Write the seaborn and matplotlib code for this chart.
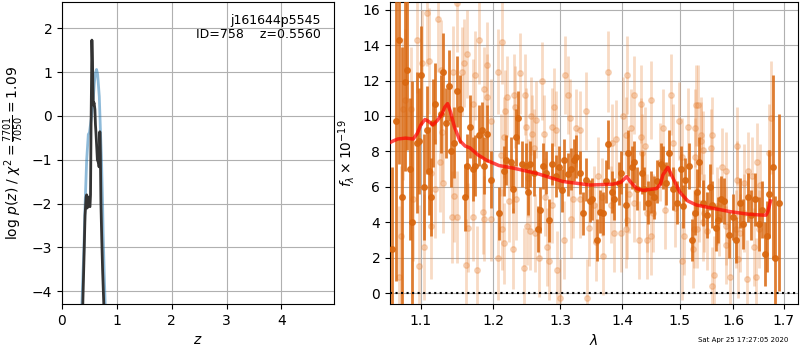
import numpy as np
import matplotlib
matplotlib.use("Agg")
import matplotlib.pyplot as plt
import matplotlib.ticker as mticker
import seaborn as sns

# p(z) curves
z_coarse = [0.36, 0.40, 0.42, 0.45, 0.48, 0.50, 0.53, 0.56, 0.59, 0.61, 0.63, 0.65, 0.68, 0.70, 0.72, 0.74, 0.75, 0.77, 0.79]
lnp_coarse = [-4.4, -3.0, -2.07, -1.0, -0.42, -0.38, -0.1, 0.2, 0.75, 0.98, 1.06, 0.95, 0.44, -0.3, -1.0, -2.0, -2.67, -3.6, -4.4]

z_fine = [0.377, 0.40, 0.42, 0.44, 0.45, 0.46, 0.47, 0.48, 0.50, 0.51, 0.52, 0.53, 0.54, 0.545, 0.555, 0.565, 0.57,
          0.585, 0.60, 0.61, 0.62, 0.635, 0.645, 0.66, 0.675, 0.685, 0.69, 0.70, 0.71, 0.725, 0.74, 0.765]
lnp_fine = [-4.4, -3.3, -2.27, -1.85, -1.8, -2.1, -2.05, -1.85, -2.05, -2.07, -1.8, -0.2, 1.0, 1.73, 1.25, 0.6, 0.25,
            0.3, 0.15, -0.2, -0.4, -0.75, -1.0, -1.05, -1.16, -1.1, -0.36, -0.9, -2.0, -2.8, -3.5, -4.4]

# spectrum, first grism (dark)
wave_a = [1.0625, 1.0675, 1.0716, 1.0760, 1.0795, 1.0820, 1.0856, 1.0880, 1.0943, 1.0970, 1.1004, 1.1040, 1.1084, 1.1110,
          1.1128, 1.1155, 1.1190, 1.1262, 1.1297, 1.1342, 1.1377, 1.1404, 1.1450, 1.1485, 1.1522, 1.1594, 1.1631, 1.1668,
          1.1704, 1.1741, 1.1797, 1.1834, 1.1862, 1.1908, 1.1964, 1.2082, 1.2149, 1.2187, 1.2256, 1.2285, 1.2334, 1.2363,
          1.2412, 1.2472, 1.2501, 1.2531, 1.2599, 1.2660, 1.2690, 1.2730, 1.2780, 1.2830, 1.2880, 1.2930, 1.2975, 1.3025,
          1.3067, 1.3117, 1.3170, 1.3223, 1.3254, 1.3307, 1.3360, 1.3413, 1.3477, 1.3509, 1.3585, 1.3640, 1.3690, 1.3727,
          1.3771, 1.3826, 1.3870, 1.3948, 1.3981, 1.4060, 1.4105, 1.4161, 1.4207, 1.4253, 1.4332, 1.4378, 1.4447, 1.4494,
          1.4551, 1.4609, 1.4668, 1.4714, 1.4761, 1.4820, 1.4891, 1.4962, 1.5022, 1.5058, 1.5105, 1.5166, 1.5226, 1.5286,
          1.5310, 1.5358, 1.5431, 1.5504, 1.5554, 1.5603, 1.5665, 1.5715, 1.5765, 1.5828, 1.5916, 1.5992, 1.6057, 1.6121,
          1.6185, 1.6276, 1.6341, 1.6419, 1.6497, 1.6564, 1.6616, 1.6669, 1.6708, 1.6774, 1.6827, 1.6894]
flux_a = [2.5, 9.7, 14.3, 5.4, 11.9, 12.6, 7.0, 4.0, 8.5, 8.6, 12.3, 6.0, 9.2, 6.9,
          5.4, 9.6, 10.7, 10.1, 12.5, 9.6, 11.7, 8.0, 8.5, 11.4, 10.4, 5.4, 7.2, 9.4,
          7.0, 7.2, 8.9, 9.2, 7.2, 9.0, 6.4, 4.5, 6.9, 7.5, 7.4, 5.9, 8.8, 9.9,
          7.3, 7.2, 5.7, 7.3, 6.8, 3.6, 4.7, 7.2, 6.8, 4.1, 7.3, 6.6, 7.1, 5.8,
          7.5, 6.7, 7.0, 7.5, 7.7, 6.8, 4.5, 6.4, 5.2, 5.3, 3.0, 4.6, 4.5, 6.3,
          8.4, 5.7, 5.3, 6.2, 6.8, 5.0, 7.9, 7.1, 7.4, 5.9, 6.8, 5.9, 5.1, 5.7,
          5.4, 6.3, 7.3, 7.1, 6.2, 7.9, 5.9, 5.1, 7.0, 4.9, 6.4, 7.2, 3.0, 4.5,
          5.7, 7.4, 5.1, 4.4, 6.0, 5.0, 3.7, 4.1, 5.3, 5.2, 3.3, 4.3, 3.0, 5.1,
          3.9, 5.4, 4.4, 5.3, 3.9, 4.7, 2.2, 3.2, 5.6, 7.1, 2.0, 5.1]
err_a = [4.6, 9.0, 7.0, 8.5, 5.0, 4.5, 4.0, 8.0, 4.0, 3.0, 2.8, 3.0, 2.5, 2.5,
         2.2, 2.5, 2.3, 2.2, 2.2, 2.0, 2.0, 2.0, 2.0, 2.0, 1.9, 1.9, 1.8, 1.8,
         1.8, 1.7, 1.7, 1.6, 1.6, 1.6, 1.6, 1.5, 1.4, 1.4, 1.4, 1.4, 1.6, 1.5,
         1.3, 1.3, 1.3, 1.3, 1.3, 1.3, 1.3, 1.3, 1.2, 1.2, 1.2, 1.2, 1.2, 1.2,
         1.2, 1.2, 1.2, 1.2, 1.2, 1.2, 1.2, 1.2, 1.2, 1.2, 1.2, 1.2, 1.2, 1.2,
         1.4, 1.2, 1.2, 1.2, 1.2, 1.2, 1.3, 1.2, 1.2, 1.2, 1.2, 1.2, 1.2, 1.2,
         1.2, 1.2, 1.2, 1.2, 1.2, 1.3, 1.2, 1.2, 1.3, 1.2, 1.2, 1.3, 1.2, 1.2,
         1.3, 1.4, 1.3, 1.3, 1.3, 1.3, 1.3, 1.3, 1.3, 1.3, 1.3, 1.3, 1.3, 1.4,
         1.4, 1.4, 1.4, 1.5, 1.5, 1.6, 1.8, 2.0, 2.5, 5.2, 3.5, 5.0]

# spectrum, second grism (light)
wave_b = [1.0716, 1.0740, 1.0768, 1.0786, 1.0866, 1.0890, 1.0950, 1.0978, 1.1020, 1.1040, 1.1075, 1.1110, 1.1128, 1.1136,
          1.1190, 1.1226, 1.1252, 1.1270, 1.1280, 1.1300, 1.1423, 1.1434, 1.1450, 1.1480, 1.1485, 1.1560, 1.1578, 1.1614,
          1.1620, 1.1640, 1.1704, 1.1714, 1.1732, 1.1760, 1.1797, 1.1850, 1.1862, 1.1869, 1.1908, 1.1911, 1.1964, 1.1966,
          1.2059, 1.2070, 1.2112, 1.2120, 1.2129, 1.2149, 1.2160, 1.2168, 1.2200, 1.2230, 1.2285, 1.2305, 1.2316, 1.2334,
          1.2390, 1.2442, 1.2462, 1.2472, 1.2490, 1.2501, 1.2540, 1.2550, 1.2561, 1.2599, 1.2610, 1.2630, 1.2680, 1.2713,
          1.2752, 1.2760, 1.2800, 1.2830, 1.2870, 1.2880, 1.2900, 1.2930, 1.2950, 1.2990, 1.3060, 1.3078, 1.3128, 1.3160,
          1.3165, 1.3200, 1.3254, 1.3307, 1.3310, 1.3413, 1.3424, 1.3456, 1.3540, 1.3575, 1.3607, 1.3664, 1.3690, 1.3771,
          1.3815, 1.3826, 1.3860, 1.3903, 1.3981, 1.4015, 1.4060, 1.4066, 1.4088, 1.4090, 1.4120, 1.4150, 1.4195, 1.4207,
          1.4287, 1.4320, 1.4325, 1.4344, 1.4390, 1.4425, 1.4430, 1.4494, 1.4500, 1.4527, 1.4656, 1.4714, 1.4737, 1.4840,
          1.4891, 1.4927, 1.4986, 1.5046, 1.5050, 1.5080, 1.5154, 1.5251, 1.5262, 1.5286, 1.5290, 1.5300, 1.5310, 1.5334,
          1.5346, 1.5394, 1.5400, 1.5431, 1.5435, 1.5443, 1.5504, 1.5578, 1.5603, 1.5605, 1.5628, 1.5690, 1.5728, 1.5778,
          1.5853, 1.5855, 1.5865, 1.5934, 1.6057, 1.6070, 1.6075, 1.6096, 1.6133, 1.6200, 1.6205, 1.6263, 1.6276, 1.6367,
          1.6393, 1.6445, 1.6458, 1.6497, 1.6524, 1.6695, 1.6734]
flux_b = [0.9, 3.2, 10.4, 10.9, 10.4, 5.3, 14.3, 1.5, 13.0, 2.6, 15.8, 13.1, 3.8, 6.8,
          5.9, 15.5, 7.4, 12.6, 9.1, 6.2, 4.3, 12.5, 5.5, 16.4, 4.3, 12.5, 13.0, 1.6,
          13.5, 3.7, 4.3, 10.7, 12.3, 1.3, 14.3, 4.6, 4.2, 11.5, 11.1, 12.9, 4.2, 9.7,
          2.0, 12.5, 7.8, 14.2, 3.6, 8.8, 2.8, 10.3, 11.1, 5.2, 2.5, 11.2, 10.5, 5.3,
          12.4, 1.4, 11.2, 9.4, 3.8, 6.5, 3.5, 10.0, 9.0, 8.2, 3.4, 9.8, 2.0, 12.0,
          9.0, 5.4, 2.6, 1.8, 9.4, 5.0, 10.5, 9.2, 1.3, -0.3, 3.0, 12.3, 11.2, 9.9,
          4.2, 5.3, 9.3, 9.2, 5.3, 10.3, -0.3, 3.7, 5.0, 2.9, 6.6, 5.4, 2.1, 12.5,
          5.0, 8.5, 3.4, 8.7, 3.4, 10.0, 8.9, 3.6, 12.3, 4.1, 5.6, 9.3, 11.2, 5.1,
          3.0, 10.7, 8.8, 7.9, 8.3, 4.5, 3.0, 10.9, 3.2, 4.5, 7.4, 9.3, 4.7, 11.2,
          8.5, 4.8, 9.7, 7.7, 1.8, 3.2, 9.4, 2.5, 3.6, 9.3, 7.7, 10.6, 3.6, 10.6,
          5.1, 8.9, 8.6, 8.1, 4.0, 4.5, 3.5, 8.2, 8.9, 0.4, 1.0, 4.9, 4.3, 7.1,
          6.9, 3.8, 2.7, 0.9, 3.6, 8.3, 6.4, 1.9, 3.4, 6.2, 4.5, 0.8, 6.9, 6.6,
          2.6, 0.9, 7.4, 3.6, 6.1, 7.9, 9.9]
err_b = [4.0, 4.0, 4.0, 4.0, 3.5, 3.5, 3.0, 3.5, 3.0, 3.0, 3.0, 3.0, 3.0, 3.0,
         2.8, 3.0, 2.8, 2.8, 2.8, 2.8, 2.6, 2.6, 2.6, 2.8, 2.6, 2.5, 2.5, 2.6,
         2.5, 2.5, 2.5, 2.5, 2.5, 2.5, 2.5, 2.4, 2.4, 2.4, 2.4, 2.4, 2.4, 2.4,
         2.4, 2.4, 2.3, 2.4, 2.3, 2.3, 2.3, 2.3, 2.3, 2.3, 2.3, 2.3, 2.3, 2.3,
         2.3, 2.3, 2.3, 2.2, 2.2, 2.2, 2.2, 2.2, 2.2, 2.2, 2.2, 2.2, 2.2, 2.2,
         2.2, 2.2, 2.2, 2.2, 2.2, 2.2, 2.2, 2.2, 2.2, 2.2, 2.2, 2.2, 2.2, 2.2,
         2.2, 2.2, 2.2, 2.2, 2.2, 2.2, 2.2, 2.2, 2.2, 2.2, 2.2, 2.2, 2.2, 2.3,
         2.2, 2.2, 2.2, 2.2, 2.2, 2.2, 2.2, 2.2, 2.2, 2.2, 2.2, 2.2, 2.2, 2.2,
         2.2, 2.2, 2.2, 2.2, 2.2, 2.2, 2.2, 2.2, 2.2, 2.2, 2.2, 2.2, 2.2, 2.3,
         2.2, 2.2, 2.2, 2.2, 2.2, 2.2, 2.2, 2.2, 2.2, 2.2, 2.2, 2.3, 2.2, 2.3,
         2.2, 2.2, 2.2, 2.2, 2.2, 2.2, 2.2, 2.2, 2.2, 2.2, 2.2, 2.2, 2.2, 2.2,
         2.2, 2.2, 2.2, 2.2, 2.2, 2.2, 2.2, 2.2, 2.2, 2.2, 2.2, 2.2, 2.2, 2.2,
         2.2, 2.2, 2.2, 2.2, 2.3, 2.8, 3.2]

# best-fit model
wave_m = [1.0600, 1.0646, 1.0700, 1.0800, 1.0900, 1.0950, 1.1000, 1.1053, 1.1100, 1.1159, 1.1220, 1.1280, 1.1320,
          1.1358, 1.1400, 1.1450, 1.1527, 1.1600, 1.1666, 1.1780, 1.1902, 1.2080, 1.2283, 1.2637, 1.3042, 1.3472,
          1.3848, 1.3980, 1.4077, 1.4150, 1.4250, 1.4355, 1.4593, 1.4660, 1.4704, 1.4792, 1.4881, 1.5005, 1.5150,
          1.5308, 1.5934, 1.6300, 1.6576, 1.6640, 1.6676, 1.6730]
flux_m = [8.5, 8.6, 8.7, 8.75, 8.7, 9.0, 9.5, 9.8, 9.7, 9.5, 9.75, 10.1, 10.5,
          10.7, 10.2, 9.4, 8.6, 8.3, 8.2, 7.8, 7.5, 7.2, 7.06, 6.76, 6.3, 6.1,
          6.15, 6.25, 6.57, 6.25, 5.9, 5.8, 5.9, 6.15, 6.67, 7.1, 6.5, 5.7, 5.2,
          4.97, 4.6, 4.45, 4.4, 4.4, 4.6, 5.2]

fig = plt.figure(figsize=(8, 3.5), dpi=100)
ax1 = fig.add_axes([0.0775, 0.1314, 0.34, 0.863])
ax2 = fig.add_axes([0.4875, 0.1314, 0.51, 0.863])

# left: log p(z)
sns.lineplot(x=z_coarse, y=lnp_coarse, ax=ax1, sort=False, estimator=None,
             color='tab:blue', alpha=0.5, linewidth=2)
sns.lineplot(x=z_fine, y=lnp_fine, ax=ax1, sort=False, estimator=None,
             color='0.2', linewidth=2)
ax1.set_xlim(0, 4.96)
ax1.set_ylim(-4.29, 2.6)
ax1.set_xticks([0, 1, 2, 3, 4])
ax1.set_yticks([-4, -3, -2, -1, 0, 1, 2])
ax1.grid(True, color='#b0b0b0')
ax1.set_axisbelow(True)
ax1.set_xlabel('$z$')
ax1.set_ylabel(r'log $p(z)$ / $\chi^2=\frac{7701}{7050}=1.09$')
ax1.text(0.95, 0.96, 'j161644p5545\nID=758    z=0.5560', transform=ax1.transAxes,
         ha='right', va='top', fontsize=9, linespacing=1.1)

# right: spectrum
ax2.errorbar(wave_b, flux_b, yerr=err_b, fmt='o', color='#e8873e', alpha=0.3,
             markersize=4, elinewidth=2, capsize=0, zorder=2)
ax2.errorbar(wave_a, flux_a, yerr=err_a, fmt='o', color='#d9670f', alpha=0.85,
             markersize=4, elinewidth=2, capsize=0, zorder=3)
sns.lineplot(x=wave_m, y=flux_m, ax=ax2, sort=False, estimator=None,
             color='red', alpha=0.7, linewidth=2.5, zorder=4)
ax2.axhline(0, color='k', linestyle=':', linewidth=1.5, zorder=5)

ax2.set_xscale('log')
ax2.set_xlim(1.06, 1.729)
ax2.set_ylim(-0.62, 16.44)
ax2.xaxis.set_major_locator(mticker.FixedLocator([1.1, 1.2, 1.3, 1.4, 1.5, 1.6, 1.7]))
ax2.xaxis.set_major_formatter(mticker.FixedFormatter(['1.1', '1.2', '1.3', '1.4', '1.5', '1.6', '1.7']))
ax2.xaxis.set_minor_locator(mticker.NullLocator())
ax2.set_yticks(np.arange(0, 17, 2))
ax2.grid(True, color='#b0b0b0')
ax2.set_axisbelow(True)
ax2.set_xlabel(r'$\lambda$')
ax2.set_ylabel(r'$f_\lambda \times 10^{-19}$')

fig.text(0.985, 0.028, 'Sat Apr 25 17:27:05 2020', ha='right', va='center', fontsize=5)

fig.savefig('out.png', dpi=100)
